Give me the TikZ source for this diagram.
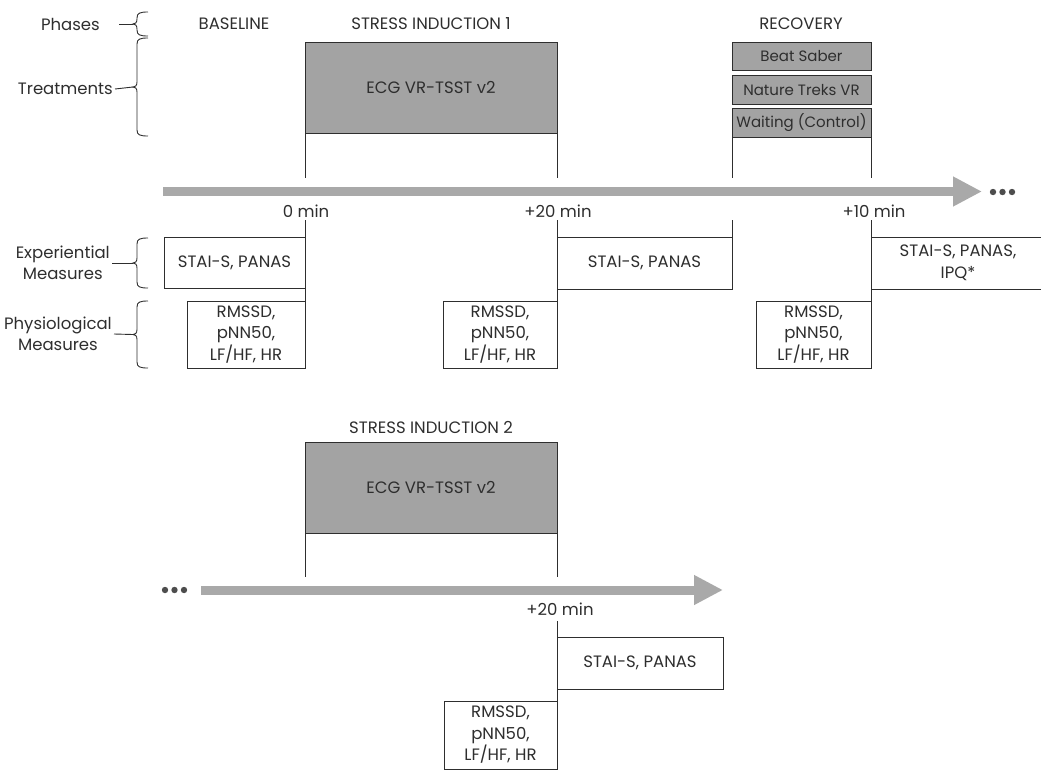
\documentclass[tikz,border=0pt]{standalone}
\usepackage{fontspec}
\setmainfont{Poppins}
\usetikzlibrary{arrows.meta}
\definecolor{ink}{HTML}{2E2E2E}
\definecolor{tfill}{HTML}{A3A3A3}
\definecolor{axisgrey}{HTML}{A9A9A9}
\newcommand\txt{\fontsize{16.5}{21.5}\selectfont}
\newcommand\smalltxt{\fontsize{15}{18}\selectfont}
% left-hand grouping brace: x of the open ends, top, bottom
\newcommand\sidebrace[3]{%
  \draw[tline] (#1,#2) .. controls ({#1-8},#2) and ({#1-11},{#2+1}) .. ({#1-11},{#2+6})
    -- ({#1-11},{(#2+#3)/2-5}) .. controls ({#1-11},{(#2+#3)/2-1}) and ({#1-13},{(#2+#3)/2}) .. ({#1-15},{(#2+#3)/2})
    .. controls ({#1-13},{(#2+#3)/2}) and ({#1-11},{(#2+#3)/2+1}) .. ({#1-11},{(#2+#3)/2+5})
    -- ({#1-11},{#3-6}) .. controls ({#1-11},{#3-1}) and ({#1-8},#3) .. (#1,#3);}
\begin{document}
\begin{tikzpicture}[x=1pt,y=-1pt,
  every node/.style={font=\txt, text=ink},
  tline/.style={draw=ink, line width=0.9pt},
  treat/.style={draw=ink, line width=0.9pt, fill=tfill, inner sep=0pt, outer sep=0pt, anchor=north west, align=center},
  option/.style={treat, font=\smalltxt, minimum width=139pt, minimum height=28.5pt},
  meas/.style={draw=ink, line width=0.9pt, fill=white, inner sep=0pt, outer sep=0pt, anchor=north west, align=center},
  side/.style={anchor=east, align=center, inner sep=0pt},
  timeaxis/.style={draw=axisgrey, line width=9pt, -{Triangle[length=29pt,width=28pt]}},
  dotfill/.style={fill=ink!85}
]
\useasboundingbox (0,0) rectangle (1041,771);

% row labels with their braces
\node[side] (lphase) at (100,24) {Phases};
\node[side] (ltreat) at (113,89) {Treatments};
\node[side] (lexp) at (110,263) {Experiential\\Measures};
\node[side] (lphys) at (112,334) {Physiological\\Measures};
\coordinate (bphase) at (133,24);
\coordinate (btreat) at (133,87);
\coordinate (bexp) at (133,263);
\coordinate (bphys) at (133,334.5);
\sidebrace{148}{12}{36}
\sidebrace{148}{38}{136}
\sidebrace{148}{238}{288}
\sidebrace{148}{301}{368}
\draw[tline] ([xshift=19pt]lphase.east) -- (bphase);
\draw[tline] ([xshift=2pt]ltreat.east) -- (btreat);
\draw[tline] ([xshift=2pt]lexp.east) -- (bexp);
\draw[tline] ([xshift=2pt]lphys.east) -- (bphys);

% phase titles
\node (pbase) at (234,24) {BASELINE};
\node (pstress1) at (431,24) {STRESS INDUCTION 1};
\node (precov) at (801,24) {RECOVERY};
\node (pstress2) at (431,427) {STRESS INDUCTION 2};

% treatments, first part
\node[treat, minimum width=252pt, minimum height=91pt] (ecg1) at (305,42) {ECG VR-TSST v2};
\node[option] (beat) at (732,42) {Beat Saber};
\node[option] (nature) at (732,75.5) {Nature Treks VR};
\node[option] (wait) at (732,108.5) {Waiting (Control)};

% time axis, first part
\coordinate (ax0) at (163,191.5);
\coordinate (ax1) at (982,191.5);
\draw[timeaxis] (ax0) -- (ax1);
\fill[dotfill] (993,192) circle (3.2) (1002.5,192) circle (3.2) (1012,192) circle (3.2);
\node (t0) at (306,211) {0 min};
\node (t20) at (558,211) {+20 min};
\node (t10) at (874,211) {+10 min};

% measures, first part
\node[meas, minimum width=141pt, minimum height=51pt] (stai1) at (164,237) {STAI-S, PANAS};
\node[meas, minimum width=118pt, minimum height=67pt] (hrv1) at (187,301) {RMSSD,\\pNN50,\\LF/HF, HR};
\node[meas, minimum width=175pt, minimum height=52pt] (stai2) at (557,237) {STAI-S, PANAS};
\node[meas, minimum width=114pt, minimum height=67pt] (hrv2) at (443,301) {RMSSD,\\pNN50,\\LF/HF, HR};
\node[meas, minimum width=174pt, minimum height=52pt] (stai3) at (871,237) {STAI-S, PANAS,\\IPQ*};
\node[meas, minimum width=115pt, minimum height=67pt] (hrv3) at (756,301) {RMSSD,\\pNN50,\\LF/HF, HR};

% phase boundaries, first part
\coordinate (u0) at (305,178);
\coordinate (d0) at (305,220);
\coordinate (u20) at (557,178);
\coordinate (d20) at (557,220);
\coordinate (ur) at (732,178);
\coordinate (dr) at (732,220);
\coordinate (u10) at (871,178);
\coordinate (d10) at (871,220);
\draw[tline] (ecg1.south west) -- (u0);
\draw[tline] (ecg1.south east) -- (u20);
\draw[tline] (wait.south west) -- (ur);
\draw[tline] (wait.south east) -- (u10);
\draw[tline] (d0) -- (hrv1.north east);
\draw[tline] (d20) -- (hrv2.north east);
\draw[tline] (dr) -- (stai2.north east);
\draw[tline] (d10) -- (hrv3.north east);

% second part
\node[treat, minimum width=252pt, minimum height=91pt] (ecg2) at (305,442) {ECG VR-TSST v2};
\coordinate (bx0) at (201,590);
\coordinate (bx1) at (723,590);
\draw[timeaxis] (bx0) -- (bx1);
\fill[dotfill] (165,590) circle (3.2) (174.5,590) circle (3.2) (184,590) circle (3.2);
\node (s20) at (560,609) {+20 min};
\node[meas, minimum width=166pt, minimum height=52pt] (stai4) at (557,637) {STAI-S, PANAS};
\node[meas, minimum width=113pt, minimum height=68pt] (hrv4) at (444,701) {RMSSD,\\pNN50,\\LF/HF, HR};
\coordinate (v0) at (305,577);
\coordinate (v20) at (557,577);
\coordinate (w20) at (557,621);
\draw[tline] (ecg2.south west) -- (v0);
\draw[tline] (ecg2.south east) -- (v20);
\draw[tline] (w20) -- (hrv4.north east);
\end{tikzpicture}
\end{document}
